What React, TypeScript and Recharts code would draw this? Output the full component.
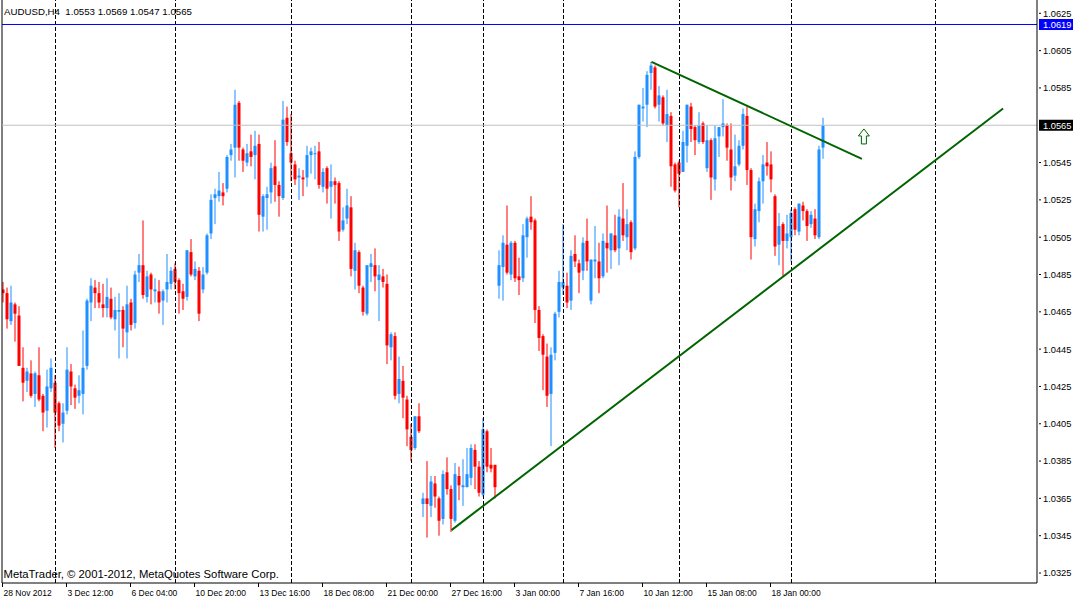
import React from 'react';
import { ComposedChart, Bar, XAxis, YAxis, ReferenceLine, ReferenceDot } from 'recharts';

// AUDUSD H4 bars, 28 Nov 2012 .. 18 Jan 2013 (one value per bar)
const opens = [
  1.0477, 1.0475, 1.0460, 1.0469, 1.0463, 1.0435, 1.0428, 1.0432, 1.0421, 1.0431,
  1.0420, 1.0412, 1.0424, 1.0427, 1.0416, 1.0405, 1.0412, 1.0433, 1.0424, 1.0420,
  1.0421, 1.0436, 1.0470, 1.0478, 1.0475, 1.0469, 1.0467, 1.0472, 1.0461, 1.0465,
  1.0466, 1.0454, 1.0470, 1.0459, 1.0486, 1.0490, 1.0473, 1.0485, 1.0476, 1.0476,
  1.0471, 1.0477, 1.0480, 1.0488, 1.0482, 1.0476, 1.0473, 1.0497, 1.0484, 1.0487,
  1.0477, 1.0486, 1.0507, 1.0526, 1.0527, 1.0529, 1.0531, 1.0549, 1.0553, 1.0577,
  1.0552, 1.0545, 1.0551, 1.0549, 1.0555, 1.0516, 1.0526, 1.0529, 1.0543, 1.0533,
  1.0526, 1.0569, 1.0550, 1.0544, 1.0537, 1.0537, 1.0537, 1.0549, 1.0550, 1.0551,
  1.0532, 1.0542, 1.0532, 1.0535, 1.0534, 1.0509, 1.0515, 1.0521, 1.0487, 1.0497,
  1.0478, 1.0464, 1.0489, 1.0490, 1.0482, 1.0484, 1.0480, 1.0446, 1.0452, 1.0421,
  1.0428, 1.0418, 1.0398, 1.0392, 1.0409, 1.0362, 1.0365, 1.0361, 1.0373, 1.0365,
  1.0354, 1.0379, 1.0370, 1.0353, 1.0377, 1.0371, 1.0371, 1.0376, 1.0391, 1.0382,
  1.0367, 1.0401, 1.0383, 1.0383, 1.0479, 1.0489, 1.0501, 1.0485, 1.0502, 1.0484,
  1.0483, 1.0505, 1.0516, 1.0514, 1.0466, 1.0452, 1.0441, 1.0421, 1.0443, 1.0465,
  1.0478, 1.0479, 1.0471, 1.0496, 1.0491, 1.0487, 1.0503, 1.0471, 1.0492, 1.0492,
  1.0484, 1.0502, 1.0498, 1.0506, 1.0499, 1.0515, 1.0505, 1.0513, 1.0499, 1.0548,
  1.0574, 1.0576, 1.0593, 1.0596, 1.0576, 1.0580, 1.0565, 1.0570, 1.0544, 1.0545,
  1.0540, 1.0554, 1.0575, 1.0564, 1.0556, 1.0566, 1.0542, 1.0557, 1.0536, 1.0559,
  1.0564, 1.0565, 1.0552, 1.0538, 1.0544, 1.0554, 1.0570, 1.0541, 1.0504, 1.0519,
  1.0535, 1.0545, 1.0544, 1.0527, 1.0501, 1.0512, 1.0503, 1.0505, 1.0520, 1.0508,
  1.0522, 1.0519, 1.0512, 1.0515, 1.0505, 1.0553,
];

const highs = [
  1.0481, 1.0478, 1.0479, 1.0470, 1.0468, 1.0446, 1.0435, 1.0439, 1.0433, 1.0446,
  1.0421, 1.0434, 1.0440, 1.0431, 1.0417, 1.0416, 1.0446, 1.0437, 1.0426, 1.0431,
  1.0455, 1.0472, 1.0483, 1.0482, 1.0481, 1.0480, 1.0483, 1.0478, 1.0473, 1.0475,
  1.0468, 1.0479, 1.0472, 1.0487, 1.0496, 1.0514, 1.0487, 1.0486, 1.0483, 1.0482,
  1.0477, 1.0496, 1.0489, 1.0491, 1.0483, 1.0480, 1.0498, 1.0504, 1.0492, 1.0489,
  1.0489, 1.0507, 1.0528, 1.0531, 1.0540, 1.0534, 1.0549, 1.0555, 1.0584, 1.0578,
  1.0553, 1.0555, 1.0560, 1.0562, 1.0560, 1.0528, 1.0532, 1.0545, 1.0557, 1.0535,
  1.0578, 1.0575, 1.0571, 1.0546, 1.0542, 1.0541, 1.0554, 1.0553, 1.0554, 1.0556,
  1.0542, 1.0543, 1.0544, 1.0537, 1.0535, 1.0521, 1.0531, 1.0527, 1.0502, 1.0498,
  1.0479, 1.0490, 1.0496, 1.0499, 1.0490, 1.0488, 1.0485, 1.0454, 1.0454, 1.0441,
  1.0436, 1.0420, 1.0405, 1.0409, 1.0416, 1.0368, 1.0385, 1.0377, 1.0377, 1.0366,
  1.0380, 1.0387, 1.0372, 1.0384, 1.0382, 1.0386, 1.0392, 1.0394, 1.0394, 1.0385,
  1.0408, 1.0402, 1.0392, 1.0383, 1.0498, 1.0506, 1.0522, 1.0503, 1.0503, 1.0494,
  1.0512, 1.0516, 1.0527, 1.0515, 1.0468, 1.0453, 1.0448, 1.0446, 1.0465, 1.0487,
  1.0512, 1.0486, 1.0498, 1.0506, 1.0493, 1.0505, 1.0515, 1.0493, 1.0511, 1.0502,
  1.0507, 1.0522, 1.0507, 1.0517, 1.0520, 1.0534, 1.0520, 1.0514, 1.0551, 1.0576,
  1.0585, 1.0594, 1.0599, 1.0597, 1.0586, 1.0581, 1.0584, 1.0572, 1.0545, 1.0546,
  1.0562, 1.0576, 1.0577, 1.0565, 1.0572, 1.0567, 1.0565, 1.0558, 1.0565, 1.0564,
  1.0579, 1.0566, 1.0566, 1.0560, 1.0557, 1.0574, 1.0575, 1.0542, 1.0523, 1.0537,
  1.0549, 1.0556, 1.0551, 1.0528, 1.0518, 1.0513, 1.0517, 1.0520, 1.0521, 1.0523,
  1.0524, 1.0520, 1.0519, 1.0520, 1.0554, 1.0569,
];

const lows = [
  1.0470, 1.0456, 1.0458, 1.0449, 1.0436, 1.0417, 1.0422, 1.0419, 1.0414, 1.0417,
  1.0401, 1.0403, 1.0422, 1.0392, 1.0401, 1.0395, 1.0410, 1.0415, 1.0413, 1.0416,
  1.0410, 1.0434, 1.0460, 1.0467, 1.0467, 1.0462, 1.0462, 1.0461, 1.0455, 1.0440,
  1.0446, 1.0440, 1.0455, 1.0456, 1.0481, 1.0472, 1.0470, 1.0469, 1.0470, 1.0464,
  1.0458, 1.0470, 1.0477, 1.0477, 1.0464, 1.0466, 1.0471, 1.0484, 1.0482, 1.0460,
  1.0475, 1.0485, 1.0504, 1.0512, 1.0524, 1.0522, 1.0529, 1.0546, 1.0537, 1.0546,
  1.0540, 1.0543, 1.0543, 1.0536, 1.0508, 1.0508, 1.0509, 1.0523, 1.0524, 1.0516,
  1.0525, 1.0554, 1.0535, 1.0533, 1.0525, 1.0527, 1.0532, 1.0539, 1.0536, 1.0531,
  1.0529, 1.0523, 1.0515, 1.0523, 1.0503, 1.0508, 1.0512, 1.0484, 1.0477, 1.0475,
  1.0463, 1.0463, 1.0481, 1.0476, 1.0460, 1.0478, 1.0437, 1.0439, 1.0418, 1.0416,
  1.0408, 1.0393, 1.0385, 1.0391, 1.0400, 1.0355, 1.0344, 1.0355, 1.0360, 1.0345,
  1.0351, 1.0367, 1.0347, 1.0352, 1.0364, 1.0361, 1.0371, 1.0372, 1.0370, 1.0366,
  1.0366, 1.0379, 1.0379, 1.0365, 1.0472, 1.0471, 1.0485, 1.0482, 1.0481, 1.0474,
  1.0481, 1.0494, 1.0509, 1.0459, 1.0444, 1.0423, 1.0414, 1.0393, 1.0439, 1.0462,
  1.0474, 1.0467, 1.0466, 1.0489, 1.0475, 1.0482, 1.0487, 1.0469, 1.0483, 1.0475,
  1.0483, 1.0486, 1.0488, 1.0497, 1.0490, 1.0503, 1.0498, 1.0493, 1.0498, 1.0547,
  1.0567, 1.0564, 1.0584, 1.0574, 1.0567, 1.0565, 1.0556, 1.0532, 1.0529, 1.0521,
  1.0540, 1.0545, 1.0556, 1.0549, 1.0555, 1.0555, 1.0540, 1.0525, 1.0530, 1.0548,
  1.0559, 1.0546, 1.0530, 1.0535, 1.0543, 1.0552, 1.0533, 1.0493, 1.0500, 1.0513,
  1.0523, 1.0538, 1.0529, 1.0495, 1.0490, 1.0484, 1.0499, 1.0492, 1.0506, 1.0506,
  1.0514, 1.0503, 1.0510, 1.0504, 1.0504, 1.0547,
];

const closes = [
  1.0475, 1.0461, 1.0470, 1.0464, 1.0436, 1.0427, 1.0433, 1.0420, 1.0432, 1.0418,
  1.0411, 1.0425, 1.0435, 1.0411, 1.0404, 1.0411, 1.0434, 1.0425, 1.0419, 1.0423,
  1.0435, 1.0471, 1.0479, 1.0475, 1.0470, 1.0467, 1.0473, 1.0462, 1.0466, 1.0466,
  1.0456, 1.0469, 1.0458, 1.0485, 1.0490, 1.0474, 1.0484, 1.0477, 1.0477, 1.0470,
  1.0476, 1.0481, 1.0487, 1.0481, 1.0475, 1.0472, 1.0498, 1.0485, 1.0488, 1.0464,
  1.0485, 1.0506, 1.0525, 1.0528, 1.0530, 1.0527, 1.0548, 1.0552, 1.0576, 1.0553,
  1.0546, 1.0550, 1.0548, 1.0554, 1.0517, 1.0527, 1.0528, 1.0542, 1.0533, 1.0527,
  1.0568, 1.0556, 1.0545, 1.0536, 1.0538, 1.0536, 1.0549, 1.0551, 1.0550, 1.0533,
  1.0540, 1.0531, 1.0535, 1.0533, 1.0508, 1.0514, 1.0522, 1.0488, 1.0498, 1.0479,
  1.0465, 1.0490, 1.0491, 1.0484, 1.0485, 1.0481, 1.0447, 1.0453, 1.0420, 1.0429,
  1.0419, 1.0402, 1.0391, 1.0409, 1.0401, 1.0365, 1.0362, 1.0374, 1.0366, 1.0353,
  1.0378, 1.0370, 1.0354, 1.0378, 1.0372, 1.0372, 1.0378, 1.0392, 1.0382, 1.0368,
  1.0402, 1.0382, 1.0381, 1.0371, 1.0490, 1.0502, 1.0486, 1.0502, 1.0483, 1.0482,
  1.0506, 1.0515, 1.0513, 1.0466, 1.0451, 1.0442, 1.0420, 1.0442, 1.0464, 1.0481,
  1.0481, 1.0470, 1.0495, 1.0492, 1.0486, 1.0502, 1.0492, 1.0493, 1.0493, 1.0483,
  1.0503, 1.0499, 1.0507, 1.0498, 1.0516, 1.0506, 1.0512, 1.0497, 1.0548, 1.0576,
  1.0575, 1.0592, 1.0597, 1.0575, 1.0581, 1.0566, 1.0571, 1.0543, 1.0530, 1.0539,
  1.0556, 1.0576, 1.0563, 1.0557, 1.0565, 1.0556, 1.0557, 1.0537, 1.0558, 1.0564,
  1.0566, 1.0553, 1.0537, 1.0543, 1.0554, 1.0571, 1.0541, 1.0505, 1.0520, 1.0535,
  1.0544, 1.0543, 1.0536, 1.0500, 1.0511, 1.0503, 1.0507, 1.0518, 1.0509, 1.0523,
  1.0519, 1.0511, 1.0517, 1.0506, 1.0552, 1.0565,
];

// time scale labels every 16 bars
const timeTickBars = [0, 16, 32, 48, 64, 80, 96, 112, 128, 144, 160, 176, 192];
const timeTickLabels = [
  '28 Nov 2012', '3 Dec 12:00', '6 Dec 04:00', '10 Dec 20:00', '13 Dec 16:00',
  '18 Dec 08:00', '21 Dec 00:00', '27 Dec 16:00', '3 Jan 00:00', '7 Jan 16:00',
  '10 Jan 12:00', '15 Jan 08:00', '18 Jan 00:00',
];

const bidPrice = 1.0565;
const levelPrice = 1.0619;
const priceTicks = [
  1.0625, 1.0619, 1.0605, 1.0585, 1.0565, 1.0545, 1.0525, 1.0505, 1.0485,
  1.0465, 1.0445, 1.0425, 1.0405, 1.0385, 1.0365, 1.0345, 1.0325,
];

// dashed period separators (bar index)
const separatorBars = [13, 43, 72, 102, 120, 140, 169, 197, 233];

// trend lines drawn on the chart, in bar index / price
const resistance = [{ x: 162, y: 1.0599 }, { x: 214.6, y: 1.0547 }];
const support = [{ x: 112, y: 1.0348 }, { x: 249.9, y: 1.0574 }];
const arrowAt = { x: 215.1, y: 1.0559 };

const BULL = '#1E90FF';
const BEAR = '#FF0000';
const TREND = '#006400';
const FONT = '"Liberation Sans", Arial, sans-serif';

const candles = opens.map((open, i) => ({
  bar: i,
  open,
  close: closes[i],
  range: [lows[i], highs[i]],
}));

const last = opens.length - 1;
const header = `AUDUSD,H4  ${opens[last].toFixed(4)} ${highs[last].toFixed(4)} ${lows[last].toFixed(4)} ${closes[last].toFixed(4)}`;

const CandleShape = (props: any) => {
  const { x, y, width, height, payload } = props;
  const [low, high] = payload.range;
  const top = Math.min(y, y + height);
  const span = Math.abs(height);
  const at = (v: number) => top + ((high - v) / (high - low || 1)) * span;
  const cx = x + width / 2;
  const color = payload.close >= payload.open ? BULL : BEAR;
  const bodyTop = at(Math.max(payload.open, payload.close));
  const bodyBottom = at(Math.min(payload.open, payload.close));
  return (
    <g>
      <rect x={cx - 0.5} y={top} width={1} height={Math.max(span, 1)} fill={color} />
      <rect x={cx - 1.5} y={bodyTop} width={3} height={Math.max(bodyBottom - bodyTop, 1)} fill={color} />
    </g>
  );
};

const PriceTick = (props: any) => {
  const { x, y, payload } = props;
  const v = payload.value;
  const box = Math.abs(v - bidPrice) < 1e-7 ? '#000000' : Math.abs(v - levelPrice) < 1e-7 ? '#0000FF' : null;
  return (
    <g>
      {box ? (
        <rect x={x + 2} y={y - 5.5} width={34} height={11} fill={box} />
      ) : (
        <line x1={x + 2} x2={x + 4} y1={y} y2={y} stroke="#000" />
      )}
      <text x={x + 6} y={y + 3.4} fill={box ? '#fff' : '#000'} fontSize={9.3} fontFamily={FONT}>
        {v.toFixed(4)}
      </text>
    </g>
  );
};

const TimeTick = (props: any) => {
  const { x, y, payload } = props;
  const label = timeTickLabels[timeTickBars.indexOf(payload.value)];
  return (
    <g>
      <line x1={x - 1} x2={x - 1} y1={y} y2={y + 4} stroke="#000" />
      <text x={x} y={y + 13} fill="#000" fontSize={8.5} fontFamily={FONT}>
        {label}
      </text>
    </g>
  );
};

const ArrowShape = (props: any) => {
  const { cx, cy } = props;
  const d = `M${cx},${cy - 7.5} L${cx + 5.5},${cy - 0.5} L${cx + 2.5},${cy - 0.5} L${cx + 2.5},${cy + 7.5} L${cx - 2.5},${cy + 7.5} L${cx - 2.5},${cy - 0.5} L${cx - 5.5},${cy - 0.5} Z`;
  return <path d={d} fill="#fff" stroke={TREND} strokeWidth={1} />;
};

export default function App() {
  return (
    <div style={{ position: 'absolute', left: 0, top: 0, width: 1075, height: 599, background: '#fff' }}>
      <ComposedChart width={1075} height={599} data={candles} margin={{ top: 0, right: 0, bottom: 0, left: 2 }}>
        <XAxis
          dataKey="bar"
          type="number"
          domain={[-0.375, 258.375]}
          allowDataOverflow
          ticks={timeTickBars}
          interval={0}
          tick={<TimeTick />}
          tickLine={false}
          tickSize={0}
          tickMargin={0}
          axisLine={{ stroke: '#000' }}
          height={16}
        />
        <YAxis
          orientation="right"
          type="number"
          domain={[1.031965, 1.063213]}
          allowDataOverflow
          ticks={priceTicks}
          interval={0}
          tick={<PriceTick />}
          tickLine={false}
          tickSize={0}
          tickMargin={0}
          axisLine={{ stroke: '#000' }}
          width={38}
        />
        <ReferenceLine x={-0.375} stroke="#000" />
        {separatorBars.map((b) => (
          <ReferenceLine key={b} x={b} stroke="#000" strokeDasharray="4 2" />
        ))}
        <ReferenceLine y={bidPrice} stroke="#C0C0C0" />
        <ReferenceLine y={levelPrice} stroke="#0000FF" />
        <Bar dataKey="range" barSize={3} shape={<CandleShape />} isAnimationActive={false} />
        <ReferenceLine segment={resistance} stroke={TREND} strokeWidth={2} />
        <ReferenceLine segment={support} stroke={TREND} strokeWidth={2} />
        <ReferenceDot x={arrowAt.x} y={arrowAt.y} r={8} shape={<ArrowShape />} />
      </ComposedChart>
      <svg width={1075} height={599} style={{ position: 'absolute', left: 0, top: 0, pointerEvents: 'none' }}>
        <text x={4} y={14.5} fontSize={9.7} fontFamily={FONT} fill="#000" style={{ whiteSpace: 'pre' }}>
          {header}
        </text>
        <text x={3.5} y={578} fontSize={11.3} fontFamily={FONT} fill="#000">
          MetaTrader, © 2001-2012, MetaQuotes Software Corp.
        </text>
      </svg>
    </div>
  );
}
